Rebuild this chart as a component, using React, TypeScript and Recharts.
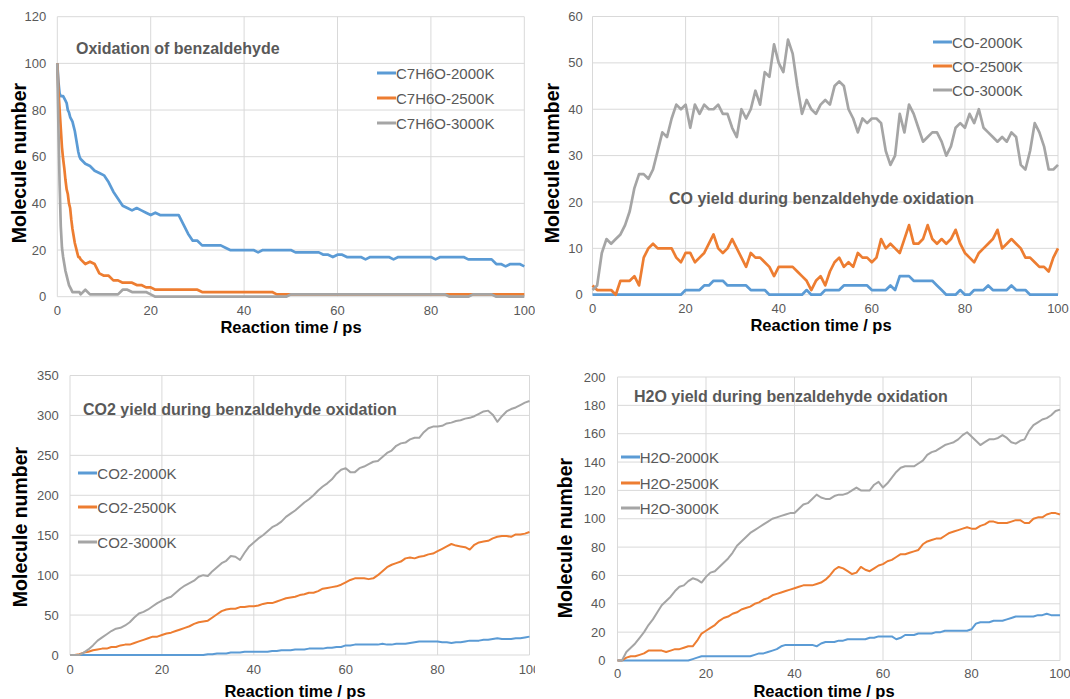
import React from 'react';
import { LineChart, Line, XAxis, YAxis, CartesianGrid } from 'recharts';

const BLUE = '#5B9BD5';
const ORANGE = '#ED7D31';
const GRAY = '#A5A5A5';
const FONT = '"Liberation Sans", Arial, Helvetica, sans-serif';

// ---------- time axes (ps) ----------
const timeC7H6O = [
  0, 0.25, 0.5, 0.75, 1, 1.25, 1.5, 1.75, 2, 2.25, 2.5, 2.75, 3, 3.25, 3.5, 3.75, 4, 4.25, 4.5, 4.75, 5,
  6, 7, 8, 9, 10, 11, 12, 13, 14, 15, 16, 17, 18, 19, 20, 21, 22, 23, 24, 25, 26, 27, 28, 29, 30,
  31, 32, 33, 34, 35, 36, 37, 38, 39, 40, 41, 42, 43, 44, 45, 46, 47, 48, 49, 50,
  51, 52, 53, 54, 55, 56, 57, 58, 59, 60, 61, 62, 63, 64, 65, 66, 67, 68, 69, 70,
  71, 72, 73, 74, 75, 76, 77, 78, 79, 80, 81, 82, 83, 84, 85, 86, 87, 88, 89, 90,
  91, 92, 93, 94, 95, 96, 97, 98, 99, 100,
];
const timeProducts = [
  0, 1, 2, 3, 4, 5, 6, 7, 8, 9, 10, 11, 12, 13, 14, 15, 16, 17, 18, 19, 20,
  21, 22, 23, 24, 25, 26, 27, 28, 29, 30, 31, 32, 33, 34, 35, 36, 37, 38, 39, 40,
  41, 42, 43, 44, 45, 46, 47, 48, 49, 50, 51, 52, 53, 54, 55, 56, 57, 58, 59, 60,
  61, 62, 63, 64, 65, 66, 67, 68, 69, 70, 71, 72, 73, 74, 75, 76, 77, 78, 79, 80,
  81, 82, 83, 84, 85, 86, 87, 88, 89, 90, 91, 92, 93, 94, 95, 96, 97, 98, 99, 100,
];

const xTicks = [0, 20, 40, 60, 80, 100];

// ---------- C7H6O ----------
const c7h6o2000 = [
  100, 92, 87, 86, 86, 86, 85, 84, 83, 80, 79, 77, 76, 75, 73, 71, 68, 65, 62, 60, 59,
  57, 56, 54, 53, 52, 49, 45, 42, 39, 38, 37, 38, 37, 36, 35, 36, 35, 35, 35, 35, 35, 31, 27, 24, 24,
  22, 22, 22, 22, 22, 21, 20, 20, 20, 20, 20, 20, 19, 20, 20, 20, 20, 20, 20, 20,
  19, 19, 19, 19, 19, 19, 18, 18, 17, 18, 18, 17, 17, 17, 17, 16, 17, 17, 17, 17,
  17, 16, 17, 17, 17, 17, 17, 17, 17, 17, 16, 17, 17, 17, 17, 17, 17, 16, 16, 16,
  16, 16, 16, 14, 14, 13, 14, 14, 14, 13,
];
const c7h6o2500 = [
  100, 88, 80, 72, 64, 59, 55, 50, 46, 44, 40, 38, 33, 29, 26, 23, 21, 19, 17, 17, 16,
  14, 15, 14, 10, 9, 9, 7, 7, 6, 6, 6, 5, 5, 4, 4, 3, 3, 3, 3, 3, 3, 3, 3, 3, 3,
  2, 2, 2, 2, 2, 2, 2, 2, 2, 2, 2, 2, 2, 2, 2, 2, 1, 1, 1, 1,
  1, 1, 1, 1, 1, 1, 1, 1, 1, 1, 1, 1, 1, 1, 1, 1, 1, 1, 1, 1,
  1, 1, 1, 1, 1, 1, 1, 1, 1, 1, 1, 1, 1, 1, 1, 1, 1, 1, 1, 1,
  1, 1, 1, 1, 1, 1, 1, 1, 1, 1,
];
const c7h6o3000 = [
  100, 72, 48, 30, 21, 17, 14, 11, 9, 7, 5, 4, 3, 2, 2, 2, 2, 2, 2, 2, 1,
  3, 1, 1, 1, 1, 1, 1, 1, 3, 3, 2, 2, 2, 2, 1, 0, 0, 0, 0, 0, 0, 0, 0, 0, 0,
  0, 0, 0, 0, 0, 0, 0, 0, 0, 0, 0, 0, 0, 0, 0, 0, 0, 0, 0, 1,
  1, 1, 1, 1, 1, 1, 1, 1, 1, 1, 1, 1, 1, 1, 1, 1, 1, 1, 1, 1,
  1, 1, 1, 1, 1, 1, 1, 1, 1, 1, 1, 1, 1, 0, 0, 0, 0, 0, 1, 1,
  1, 1, 1, 0, 0, 0, 0, 0, 0, 0,
];

// ---------- CO ----------
const co2000 = [
  0, 0, 0, 0, 0, 0, 0, 0, 0, 0, 0, 0, 0, 0, 0, 0, 0, 0, 0, 0,
  1, 1, 1, 1, 2, 2, 3, 3, 3, 2, 2, 2, 2, 2, 1, 1, 1, 1, 0, 0,
  0, 0, 0, 0, 0, 0, 1, 0, 0, 0, 1, 1, 1, 1, 2, 2, 2, 2, 2, 2,
  1, 1, 1, 1, 2, 1, 4, 4, 4, 3, 3, 3, 3, 3, 2, 1, 0, 0, 0, 1,
  0, 0, 1, 1, 1, 2, 1, 1, 1, 1, 2, 1, 1, 1, 0, 0, 0, 0, 0, 0, 0,
];
const co2500 = [
  2, 1, 1, 1, 1, 0, 3, 3, 3, 4, 2, 8, 10, 11, 10, 10, 10, 10, 8, 7,
  9, 9, 7, 8, 9, 11, 13, 10, 9, 10, 12, 10, 8, 6, 9, 8, 8, 7, 6, 4,
  6, 6, 6, 6, 5, 4, 3, 1, 3, 4, 2, 5, 7, 8, 6, 7, 6, 9, 8, 8,
  7, 8, 12, 10, 11, 10, 9, 12, 15, 11, 11, 12, 15, 12, 11, 12, 11, 12, 14, 11,
  9, 8, 7, 9, 10, 11, 12, 14, 10, 11, 12, 11, 10, 8, 8, 7, 6, 6, 5, 8, 10,
];
const co3000 = [
  1, 2, 9, 12, 11, 12, 13, 15, 18, 23, 26, 26, 25, 27, 31, 35, 34, 38, 41, 40,
  41, 36, 41, 39, 41, 40, 40, 41, 39, 39, 36, 34, 40, 38, 40, 44, 41, 48, 47, 54,
  50, 48, 55, 52, 45, 39, 42, 40, 39, 41, 42, 41, 45, 46, 45, 40, 38, 35, 38, 37,
  38, 38, 37, 31, 28, 30, 39, 35, 41, 39, 36, 33, 34, 35, 35, 33, 30, 32, 36, 37,
  36, 39, 37, 40, 36, 35, 34, 33, 34, 33, 35, 34, 28, 27, 31, 37, 35, 32, 27, 27, 28,
];

// ---------- CO2 ----------
const co2_2000 = [
  0, 0, 0, 0, 0, 0, 0, 0, 0, 0, 0, 0, 0, 0, 0, 0, 0, 0, 0, 0,
  0, 0, 0, 0, 0, 0, 0, 0, 0, 0, 1, 1, 2, 2, 2, 3, 3, 3, 4, 4,
  4, 4, 4, 4, 5, 5, 6, 6, 6, 7, 7, 7, 8, 8, 8, 8, 9, 9, 10, 10,
  12, 12, 13, 13, 13, 13, 13, 13, 14, 13, 13, 14, 14, 14, 15, 16, 17, 17, 17, 17,
  17, 16, 16, 15, 16, 16, 17, 18, 18, 18, 19, 19, 20, 21, 20, 20, 20, 21, 21, 22, 23,
];
const co2_2500 = [
  0, 0, 1, 3, 4, 6, 7, 8, 8, 10, 10, 12, 13, 13, 15, 17, 19, 21, 23, 23,
  25, 27, 28, 30, 32, 34, 36, 39, 41, 42, 43, 47, 51, 55, 57, 58, 58, 60, 60, 61,
  61, 62, 64, 65, 65, 67, 69, 71, 72, 73, 75, 76, 78, 78, 80, 83, 84, 85, 86, 88,
  91, 94, 96, 96, 96, 95, 96, 100, 105, 110, 113, 115, 117, 121, 122, 121, 123, 124, 126, 127,
  130, 133, 136, 139, 137, 136, 135, 132, 138, 141, 142, 143, 146, 148, 149, 149, 148, 151, 151, 152, 154,
];
const co2_3000 = [
  0, 0, 0, 3, 7, 12, 18, 22, 26, 30, 33, 34, 37, 41, 47, 52, 54, 57, 61, 65,
  68, 71, 73, 78, 83, 87, 90, 93, 98, 100, 99, 105, 110, 115, 118, 124, 123, 119, 128, 136,
  141, 146, 150, 155, 160, 163, 167, 173, 177, 181, 186, 191, 195, 200, 206, 211, 215, 220, 227, 232,
  234, 229, 229, 234, 236, 239, 242, 243, 248, 253, 256, 262, 265, 266, 270, 272, 272, 279, 284, 286,
  286, 287, 290, 291, 293, 294, 296, 297, 299, 302, 305, 306, 301, 292, 299, 305, 308, 310, 313, 316, 318,
];

// ---------- H2O ----------
const h2o2000 = [
  0, 0, 0, 0, 0, 0, 0, 0, 0, 0, 0, 0, 0, 0, 0, 0, 0, 1, 2, 3,
  3, 3, 3, 3, 3, 3, 3, 3, 3, 3, 3, 4, 5, 5, 6, 7, 8, 10, 11, 11,
  11, 11, 11, 11, 11, 10, 12, 13, 13, 13, 14, 14, 15, 15, 15, 15, 15, 16, 16, 17,
  17, 17, 17, 15, 16, 18, 18, 18, 19, 19, 19, 19, 20, 20, 21, 21, 21, 21, 21, 21,
  22, 26, 27, 27, 27, 28, 28, 28, 29, 30, 31, 31, 31, 31, 31, 32, 32, 33, 32, 32, 32,
];
const h2o2500 = [
  0, 0, 2, 3, 3, 4, 5, 7, 7, 7, 7, 6, 7, 8, 8, 9, 10, 10, 14, 19,
  21, 23, 25, 28, 30, 31, 33, 34, 36, 37, 38, 40, 41, 43, 44, 46, 47, 48, 49, 50,
  51, 52, 53, 53, 53, 54, 55, 57, 60, 64, 66, 65, 63, 61, 62, 66, 64, 63, 65, 67,
  68, 70, 71, 73, 75, 75, 76, 77, 78, 82, 84, 85, 86, 86, 88, 90, 91, 92, 93, 94,
  93, 93, 95, 96, 98, 98, 97, 97, 97, 98, 99, 99, 97, 97, 100, 101, 101, 103, 104, 104, 103,
];
const h2o3000 = [
  0, 0, 6, 9, 12, 16, 20, 25, 29, 34, 39, 42, 45, 49, 52, 53, 56, 58, 57, 55,
  59, 62, 63, 66, 69, 72, 76, 81, 84, 87, 90, 92, 94, 96, 98, 100, 101, 102, 103, 104,
  104, 107, 110, 111, 114, 117, 115, 114, 114, 116, 117, 117, 118, 120, 122, 120, 120, 120, 124, 126,
  122, 125, 129, 133, 136, 137, 137, 137, 139, 141, 145, 147, 148, 150, 152, 153, 154, 156, 159, 161,
  158, 155, 152, 154, 156, 156, 157, 159, 157, 154, 153, 155, 156, 162, 166, 168, 170, 171, 173, 176, 177,
];

// ---------- labels ----------
const seriesColors = [BLUE, ORANGE, GRAY];
const namesC7H6O = ['C7H6O-2000K', 'C7H6O-2500K', 'C7H6O-3000K'];
const namesCO = ['CO-2000K', 'CO-2500K', 'CO-3000K'];
const namesCO2 = ['CO2-2000K', 'CO2-2500K', 'CO2-3000K'];
const namesH2O = ['H2O-2000K', 'H2O-2500K', 'H2O-3000K'];

type Rect = { left: number; right: number; top: number; bottom: number };
type Box = { x: number; y: number; w: number; h: number };

type PanelProps = {
  box: Box;
  plot: Rect;
  time: number[];
  values: number[][];
  names: string[];
  yMax: number;
  yTicks: number[];
  sw: number;
  xTickMargin: number;
  yTickMargin: number;
  title: string;
  titlePos: [number, number];
  xTitlePos: [number, number];
  yTitlePos: [number, number];
  legendX: number;
  legendRows: number[];
};

const tickStyle = { fill: '#595959', fontSize: 13, fontFamily: FONT };

function Panel(p: PanelProps) {
  const rows = p.time.map((t, i) => {
    const r: Record<string, number> = { t };
    p.values.forEach((v, k) => {
      r['s' + k] = v[i];
    });
    return r;
  });
  return (
    <>
      <div style={{ position: 'absolute', left: p.box.x, top: p.box.y, width: p.box.w, height: p.box.h }}>
        <LineChart
          width={p.box.w}
          height={p.box.h}
          data={rows}
          margin={{
            top: p.plot.top - p.box.y,
            right: p.box.x + p.box.w - p.plot.right,
            left: 0,
            bottom: 0,
          }}
        >
          <CartesianGrid stroke="#D9D9D9" strokeWidth={1} />
          <XAxis
            dataKey="t"
            type="number"
            domain={[0, 100]}
            ticks={xTicks}
            interval={0}
            height={p.box.y + p.box.h - p.plot.bottom}
            axisLine={false}
            tickLine={false}
            tickSize={0}
            tickMargin={p.xTickMargin}
            tick={tickStyle}
          />
          <YAxis
            type="number"
            domain={[0, p.yMax]}
            ticks={p.yTicks}
            interval={0}
            width={p.plot.left - p.box.x}
            axisLine={false}
            tickLine={false}
            tickSize={0}
            tickMargin={p.yTickMargin}
            tick={tickStyle}
          />
          {p.values.map((_, k) => (
            <Line
              key={k}
              dataKey={'s' + k}
              name={p.names[k]}
              type="linear"
              stroke={seriesColors[k]}
              strokeWidth={p.sw}
              strokeLinejoin="round"
              dot={false}
              activeDot={false}
              isAnimationActive={false}
            />
          ))}
        </LineChart>
      </div>
      <div
        style={{
          position: 'absolute',
          left: p.titlePos[0],
          top: p.titlePos[1],
          transform: 'translateY(-50%)',
          whiteSpace: 'nowrap',
          fontFamily: FONT,
          fontWeight: 'bold',
          fontSize: 16,
          lineHeight: 1,
          color: '#595959',
        }}
      >
        {p.title}
      </div>
      <div
        style={{
          position: 'absolute',
          left: p.xTitlePos[0],
          top: p.xTitlePos[1],
          transform: 'translate(-50%, -50%)',
          whiteSpace: 'nowrap',
          fontFamily: FONT,
          fontWeight: 'bold',
          fontSize: 16.5,
          lineHeight: 1,
          color: '#000',
        }}
      >
        Reaction time / ps
      </div>
      <div
        style={{
          position: 'absolute',
          left: p.yTitlePos[0],
          top: p.yTitlePos[1],
          transform: 'translate(-50%, -50%) rotate(-90deg)',
          whiteSpace: 'nowrap',
          fontFamily: FONT,
          fontWeight: 'bold',
          fontSize: 19.5,
          lineHeight: 1,
          color: '#000',
        }}
      >
        Molecule number
      </div>
      {p.names.map((n, k) => (
        <div
          key={n}
          style={{
            position: 'absolute',
            left: p.legendX,
            top: p.legendRows[k],
            transform: 'translateY(-50%)',
            display: 'flex',
            alignItems: 'center',
            whiteSpace: 'nowrap',
            fontFamily: FONT,
            fontSize: 15,
            lineHeight: 1,
            color: '#595959',
          }}
        >
          <span style={{ display: 'inline-block', width: 19, height: 3, background: seriesColors[k] }} />
          <span>{n}</span>
        </div>
      ))}
    </>
  );
}

export default function App() {
  return (
    <div
      style={{
        position: 'absolute',
        left: 0,
        top: 0,
        width: 1070,
        height: 699,
        background: '#fff',
        overflow: 'hidden',
      }}
    >
      <Panel
        box={{ x: 0, y: 0, w: 535, h: 345 }}
        plot={{ left: 57.3, right: 524.3, top: 16.7, bottom: 296.7 }}
        time={timeC7H6O}
        values={[c7h6o2000, c7h6o2500, c7h6o3000]}
        names={namesC7H6O}
        yMax={120}
        yTicks={[0, 20, 40, 60, 80, 100, 120]}
        sw={2.7}
        xTickMargin={9.5}
        yTickMargin={11}
        title="Oxidation of benzaldehyde"
        titlePos={[76, 48.5]}
        xTitlePos={[291, 327]}
        yTitlePos={[19.5, 163]}
        legendX={377}
        legendRows={[73.3, 98.3, 122.7]}
      />
      <Panel
        box={{ x: 535, y: 0, w: 535, h: 345 }}
        plot={{ left: 592.5, right: 1058, top: 16.5, bottom: 294.7 }}
        time={timeProducts}
        values={[co2000, co2500, co3000]}
        names={namesCO}
        yMax={60}
        yTicks={[0, 10, 20, 30, 40, 50, 60]}
        sw={2.7}
        xTickMargin={9.5}
        yTickMargin={9.7}
        title="CO yield during benzaldehyde oxidation"
        titlePos={[669, 199]}
        xTitlePos={[821, 325]}
        yTitlePos={[553, 162.5]}
        legendX={933}
        legendRows={[42.3, 66, 90]}
      />
      <Panel
        box={{ x: 0, y: 350, w: 535, h: 349 }}
        plot={{ left: 70, right: 529.5, top: 375.5, bottom: 655 }}
        time={timeProducts}
        values={[co2_2000, co2_2500, co2_3000]}
        names={namesCO2}
        yMax={350}
        yTicks={[0, 50, 100, 150, 200, 250, 300, 350]}
        sw={2}
        xTickMargin={9.5}
        yTickMargin={11.3}
        title="CO2 yield during benzaldehyde oxidation"
        titlePos={[83, 410]}
        xTitlePos={[295, 691]}
        yTitlePos={[21.3, 527]}
        legendX={78.3}
        legendRows={[473.3, 506.7, 541.7]}
      />
      <Panel
        box={{ x: 535, y: 350, w: 535, h: 349 }}
        plot={{ left: 617.5, right: 1060, top: 377, bottom: 660.5 }}
        time={timeProducts}
        values={[h2o2000, h2o2500, h2o3000]}
        names={namesH2O}
        yMax={200}
        yTicks={[0, 20, 40, 60, 80, 100, 120, 140, 160, 180, 200]}
        sw={2}
        xTickMargin={8}
        yTickMargin={12}
        title="H2O yield during benzaldehyde oxidation"
        titlePos={[634, 397]}
        xTitlePos={[824, 691]}
        yTitlePos={[566, 537.5]}
        legendX={620.7}
        legendRows={[457.3, 482.7, 507.7]}
      />
    </div>
  );
}
